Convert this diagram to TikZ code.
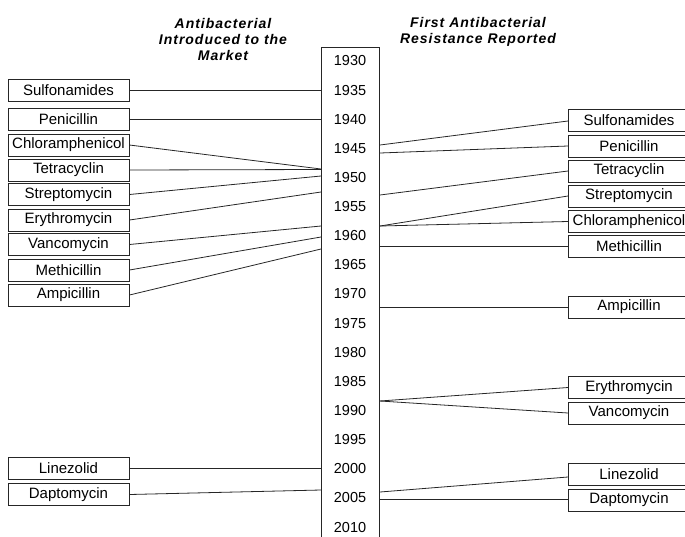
\documentclass[tikz,border=0pt]{standalone}
\usepackage{fontspec}
\setmainfont{Liberation Sans}
\begin{document}
\begin{tikzpicture}[x=1pt,y=-1pt,
  drug/.style={draw=black!85, line width=1pt, minimum width=121pt, minimum height=22pt, inner sep=0pt, font=\fontsize{15}{17}\selectfont},
  yr/.style={font=\fontsize{14.5}{16}\selectfont, inner sep=0pt},
  link/.style={draw=black!85, line width=0.8pt},
  ttl/.style={align=center, inner sep=0pt, font=\fontsize{14}{16}\selectfont\bfseries\itshape\addfontfeature{LetterSpace=7}}]
\useasboundingbox (0,0) rectangle (685,536);
\clip (0,0) rectangle (685,536);
% titles
\node[ttl] (t1) at (223,39) {Antibacterial\\Introduced to the\\Market};
\node[ttl] (t2) at (478,31.5) {First Antibacterial\\Resistance Reported};
% year bar
\node[draw=black!85, line width=1pt, minimum width=58pt, minimum height=500pt, anchor=north west, inner sep=0pt] (bar) at (321,47) {};
\foreach \yy [count=\k from 0] in {1930,1935,1940,1945,1950,1955,1960,1965,1970,1975,1980,1985,1990,1995,2000,2005,2010}{
  \node[yr] (y\yy) at (350,{61+29.125*\k}) {\yy};
}
% left boxes
\node[drug] (lsul) at (68.5,90) {Sulfonamides};
\node[drug] (lpen) at (68.5,119) {Penicillin};
\node[drug] (lchl) at (68.5,145) {Chloramphenicol};
\node[drug] (ltet) at (68.5,170) {Tetracyclin};
\node[drug] (lstr) at (68.5,194.5) {Streptomycin};
\node[drug] (lery) at (68.5,220) {Erythromycin};
\node[drug] (lvan) at (68.5,244.5) {Vancomycin};
\node[drug] (lmet) at (68.5,270) {Methicillin};
\node[drug] (lamp) at (68.5,295) {Ampicillin};
\node[drug] (llin) at (68.5,468) {Linezolid};
\node[drug] (ldap) at (68.5,494.5) {Daptomycin};
% right boxes
\node[drug, anchor=west] (rsul) at (568,120.5) {Sulfonamides};
\node[drug, anchor=west] (rpen) at (568,146) {Penicillin};
\node[drug, anchor=west] (rtet) at (568,171) {Tetracyclin};
\node[drug, anchor=west] (rstr) at (568,196) {Streptomycin};
\node[drug, anchor=west] (rchl) at (568,221.5) {Chloramphenicol};
\node[drug, anchor=west] (rmet) at (568,246.5) {Methicillin};
\node[drug, anchor=west] (ramp) at (568,307) {Ampicillin};
\node[drug, anchor=west] (rery) at (568,387.5) {Erythromycin};
\node[drug, anchor=west] (rvan) at (568,413) {Vancomycin};
\node[drug, anchor=west] (rlin) at (568,474) {Linezolid};
\node[drug, anchor=west] (rdap) at (568,500) {Daptomycin};
% left connectors
\draw[link] (lsul.east) -- (bar.west |- 0,90);
\draw[link] (lpen.east) -- (bar.west |- 0,119);
\draw[link] (lchl.east) -- (bar.west |- 0,169);
\draw[link] (ltet.east) -- (bar.west |- 0,169.5);
\draw[link] (lstr.east) -- (bar.west |- 0,176);
\draw[link] (lery.east) -- (bar.west |- 0,192);
\draw[link] (lvan.east) -- (bar.west |- 0,226);
\draw[link] (lmet.east) -- (bar.west |- 0,237);
\draw[link] (lamp.east) -- (bar.west |- 0,249);
\draw[link] (llin.east) -- (bar.west |- 0,468);
\draw[link] (ldap.east) -- (bar.west |- 0,490);
% right connectors
\draw[link] (bar.east |- 0,145) -- (rsul.west |- 0,121);
\draw[link] (bar.east |- 0,153) -- (rpen.west);
\draw[link] (bar.east |- 0,195) -- (rtet.west);
\draw[link] (bar.east |- 0,226) -- (rstr.west);
\draw[link] (bar.east |- 0,226) -- (rchl.west);
\draw[link] (bar.east |- 0,246.5) -- (rmet.west);
\draw[link] (bar.east |- 0,307) -- (ramp.west);
\draw[link] (bar.east |- 0,401) -- (rery.west);
\draw[link] (bar.east |- 0,401) -- (rvan.west);
\draw[link] (bar.east |- 0,492) -- (rlin.west |- 0,477);
\draw[link] (bar.east |- 0,499) -- (rdap.west |- 0,499);
\end{tikzpicture}
\end{document}
